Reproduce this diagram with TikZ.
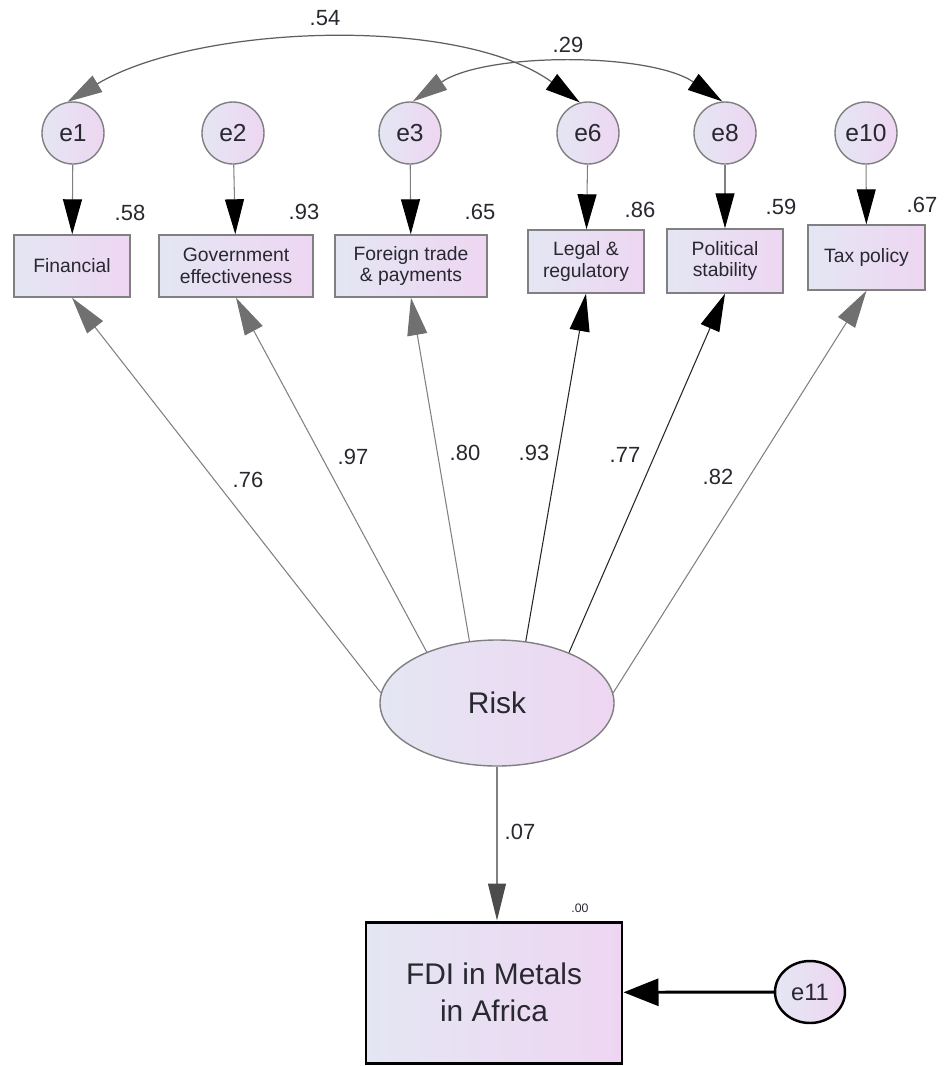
\documentclass[tikz,border=0pt]{standalone}
\usepackage{fontspec}
\setmainfont{Liberation Sans}
\usetikzlibrary{shapes.geometric,arrows.meta}

\definecolor{shadeL}{RGB}{228,230,243}
\definecolor{shadeR}{RGB}{238,214,242}
\definecolor{txtdark}{RGB}{40,40,48}
\definecolor{linegray}{RGB}{128,128,128}
\definecolor{tipgray}{RGB}{112,112,112}
\definecolor{arcgray}{RGB}{95,95,95}

\tikzset{
    errvar/.style={circle, draw=linegray, line width=0.8pt, minimum size=1.24cm, inner sep=0pt, left color=shadeL, right color=shadeR, text=txtdark, font=\fontsize{14}{16}\selectfont},
    indicator/.style={rectangle, draw=linegray, line width=0.8pt, minimum height=1.24cm, inner sep=1pt, align=center, left color=shadeL, right color=shadeR, text=txtdark, font=\fontsize{11}{12.5}\selectfont},
    coef/.style={text=txtdark, inner sep=0pt, font=\fontsize{12.5}{14}\selectfont},
    errpath/.style={draw=linegray, line width=0.6pt, -{Triangle[length=0.7cm, width=0.38cm, color=black]}},
    loadgray/.style={draw=linegray, line width=0.6pt, -{Triangle[length=0.75cm, width=0.4cm, color=tipgray]}},
    loadblack/.style={draw=black!85, line width=0.6pt, -{Triangle[length=0.75cm, width=0.4cm, color=black]}},
    covpath/.style={draw=arcgray, line width=0.7pt, {Triangle[length=0.7cm, width=0.38cm, color=tipgray]}-{Triangle[length=0.7cm, width=0.38cm, color=black]}}
}

\begin{document}
\begin{tikzpicture}
    \useasboundingbox (0,0) rectangle (18.9,-21.32);

    % Error terms
    \node[errvar] (e1) at (1.46,-2.66) {e1};
    \node[errvar] (e2) at (4.66,-2.66) {e2};
    \node[errvar] (e3) at (8.2,-2.66) {e3};
    \node[errvar] (e6) at (11.76,-2.66) {e6};
    \node[errvar] (e8) at (14.5,-2.66) {e8};
    \node[errvar] (e10) at (17.32,-2.66) {e10};

    % Indicators
    \node[indicator, minimum width=2.32cm] (fin) at (1.44,-5.32) {Financial};
    \node[indicator, minimum width=3.08cm] (gov) at (4.72,-5.32) {Government\\effectiveness};
    \node[indicator, minimum width=3.04cm] (trade) at (8.22,-5.32) {Foreign trade\\\& payments};
    \node[indicator, minimum width=2.32cm, minimum height=1.26cm] (legal) at (11.72,-5.23) {Legal \&\\regulatory};
    \node[indicator, minimum width=2.32cm, minimum height=1.28cm] (polit) at (14.5,-5.22) {Political\\stability};
    \node[indicator, minimum width=2.34cm, minimum height=1.3cm] (tax) at (17.33,-5.15) {Tax policy};

    % Latent factor and outcome
    \node[ellipse, draw=linegray, line width=0.8pt, minimum width=4.68cm, minimum height=2.52cm, left color=shadeL, right color=shadeR, text=txtdark, font=\fontsize{17}{20}\selectfont] (risk) at (9.94,-14.06) {Risk};
    \node[rectangle, draw=black, line width=1.7pt, minimum width=5.12cm, minimum height=2.82cm, align=center, left color=shadeL, right color=shadeR, text=txtdark, font=\fontsize{17}{21}\selectfont] (fdi) at (9.88,-19.85) {FDI in Metals\\in Africa};
    \node[ellipse, draw=black, line width=1.4pt, minimum width=1.4cm, minimum height=1.24cm, inner sep=0pt, left color=shadeL, right color=shadeR, text=txtdark, font=\fontsize{13.5}{15}\selectfont] (e11) at (16.2,-19.84) {e11};

    % Error arrows
    \draw[errpath] (e1) -- (fin);
    \draw[errpath] (e2) -- (gov);
    \draw[errpath] (e3) -- (trade);
    \draw[errpath] (e6) -- (legal);
    \draw[errpath] (e8) -- (polit);
    \draw[errpath] (e10) -- (tax);

    % Covariances
    \draw[covpath] (e1.100) to[out=31, in=144, looseness=0.75] (e6.105);
    \draw[covpath] (e3.85) to[out=34, in=146, looseness=0.73] (e8.95);

    % Loadings
    \draw[loadgray] (risk.175) -- (fin.south);
    \draw[loadgray] (risk.144) -- (gov.south);
    \draw[loadgray] (risk.114) -- (trade.south);
    \draw[loadblack] (risk.65) -- (legal.south);
    \draw[loadblack] (risk.35) -- (polit.south);
    \draw[loadgray] (risk.5) -- (tax.south);

    % Structural paths
    \draw[draw=linegray, line width=0.6pt, -{Triangle[length=0.74cm, width=0.36cm, color=black!70]}] (risk.south) -- (risk.south |- fdi.north);
    \draw[draw=black, line width=1.7pt, -{Triangle[length=0.7cm, width=0.54cm, color=black]}] (e11) -- (fdi);

    % Estimates
    \node[coef] at (6.5,-0.36) {.54};
    \node[coef] at (11.36,-0.9) {.29};
    \node[coef] at (2.6,-4.26) {.58};
    \node[coef] at (6.08,-4.24) {.93};
    \node[coef] at (9.6,-4.24) {.65};
    \node[coef] at (12.8,-4.2) {.86};
    \node[coef] at (15.62,-4.14) {.59};
    \node[coef] at (18.44,-4.1) {.67};
    \node[coef] at (4.96,-9.6) {.76};
    \node[coef] at (7.06,-9.14) {.97};
    \node[coef] at (9.3,-9.06) {.80};
    \node[coef] at (10.68,-9.06) {.93};
    \node[coef] at (12.5,-9.1) {.77};
    \node[coef] at (14.36,-9.54) {.82};
    \node[coef] at (10.4,-16.64) {.07};
    \node[coef, font=\fontsize{7}{8}\selectfont] at (11.6,-18.16) {.00};
\end{tikzpicture}
\end{document}
